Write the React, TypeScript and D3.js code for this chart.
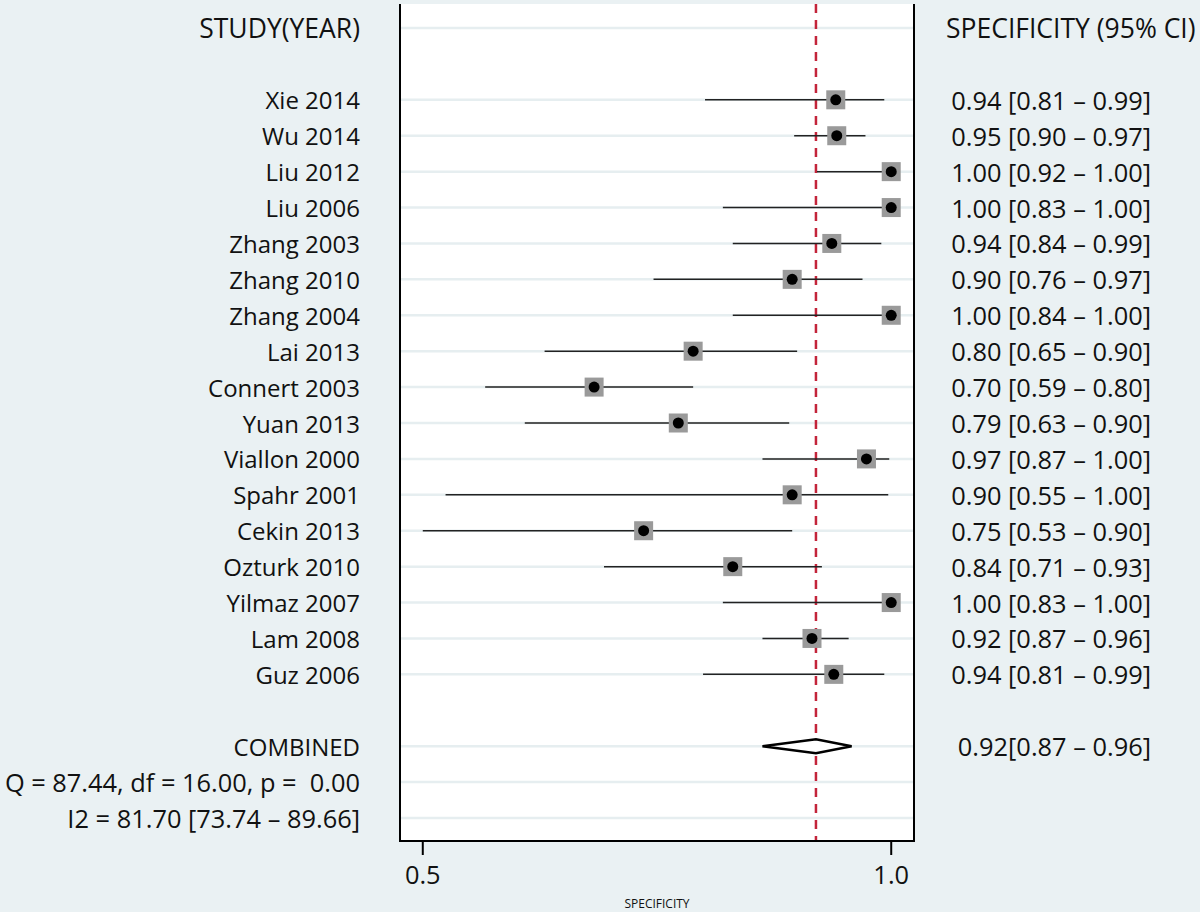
import React from "react";
import * as d3 from "d3";

const studies = [
  "Xie 2014", "Wu 2014", "Liu 2012", "Liu 2006", "Zhang 2003", "Zhang 2010", "Zhang 2004",
  "Lai 2013", "Connert 2003", "Yuan 2013", "Viallon 2000", "Spahr 2001", "Cekin 2013",
  "Ozturk 2010", "Yilmaz 2007", "Lam 2008", "Guz 2006",
];
const spec = [0.944, 0.945, 1.0, 1.0, 0.94, 0.9, 1.0, 0.8, 0.7, 0.785, 0.975, 0.9, 0.75, 0.84, 1.0, 0.92, 0.942];
const lower = [0.812, 0.902, 0.925, 0.83, 0.84, 0.76, 0.84, 0.65, 0.59, 0.63, 0.87, 0.55, 0.527, 0.71, 0.83, 0.87, 0.81];
const upper = [0.993, 0.974, 1.0, 1.0, 0.99, 0.971, 1.0, 0.905, 0.8, 0.897, 0.998, 0.997, 0.9, 0.93, 1.0, 0.957, 0.993];
const ciLabels = [
  "0.94 [0.81 \u2013 0.99]", "0.95 [0.90 \u2013 0.97]", "1.00 [0.92 \u2013 1.00]", "1.00 [0.83 \u2013 1.00]",
  "0.94 [0.84 \u2013 0.99]", "0.90 [0.76 \u2013 0.97]", "1.00 [0.84 \u2013 1.00]", "0.80 [0.65 \u2013 0.90]",
  "0.70 [0.59 \u2013 0.80]", "0.79 [0.63 \u2013 0.90]", "0.97 [0.87 \u2013 1.00]", "0.90 [0.55 \u2013 1.00]",
  "0.75 [0.53 \u2013 0.90]", "0.84 [0.71 \u2013 0.93]", "1.00 [0.83 \u2013 1.00]", "0.92 [0.87 \u2013 0.96]",
  "0.94 [0.81 \u2013 0.99]",
];
const pooled = { est: 0.924, lo: 0.87, hi: 0.96, label: "0.92[0.87 \u2013 0.96]" };
const statLines = ["Q = 87.44, df = 16.00, p =  0.00", "I2 = 81.70 [73.74 \u2013 89.66]"];
const tickValues = [0.527, 1.0];
const tickLabels = ["0.5", "1.0"];

const W = 1200;
const H = 912;
const FONT = "'Open Sans', 'Noto Sans', sans-serif";

export default function App() {
  const x = d3.scaleLinear().domain([0.504, 1.023]).range([400, 914]);
  const y = d3.scaleLinear().domain([0, 22]).range([28, 818]);
  const top = 4;
  const bottom = 841;
  const studyRow = (i: number) => i + 2;
  const gridRows = [0, ...studies.map((_, i) => studyRow(i)), 20, 21, 22];
  const dy = 7;
  const diamond = `M${x(pooled.lo)},${y(20)} L${x(pooled.est)},${y(20) - dy} L${x(pooled.hi)},${y(20)} L${x(pooled.est)},${y(20) + dy} Z`;
  const base = { fontFamily: FONT, fill: "#111", dominantBaseline: "central" as const, style: { whiteSpace: "pre" as const } };
  const nameStyle = { ...base, fontSize: 24 };
  const numStyle = { ...base, fontSize: 25.4 };
  const headStyle = { ...base, fontSize: 26.5 };
  const leftX = 360;
  const rightX = 1151;

  return (
    <svg width={W} height={H} style={{ position: "absolute", left: 0, top: 0, display: "block" }}>
      <rect x={0} y={0} width={W} height={H} fill="#eaf1f3" />
      <rect x={x.range()[0]} y={top} width={x.range()[1] - x.range()[0]} height={bottom - top} fill="#ffffff" />
      {gridRows.map((r) => (
        <line key={"g" + r} x1={x.range()[0]} x2={x.range()[1]} y1={y(r)} y2={y(r)} stroke="#e6eef0" strokeWidth={2.5} />
      ))}
      <line x1={x(pooled.est)} x2={x(pooled.est)} y1={top} y2={bottom} stroke="#c3243a" strokeWidth={2.5} strokeDasharray="9,7" />
      {studies.map((s, i) => {
        const cy = y(studyRow(i));
        return (
          <g key={s}>
            <line x1={x(lower[i])} x2={x(upper[i])} y1={cy} y2={cy} stroke="#222" strokeWidth={1.5} />
            <rect x={x(spec[i]) - 9.5} y={cy - 9.5} width={19} height={19} fill="#9a9a9a" />
            <circle cx={x(spec[i])} cy={cy} r={5.5} fill="#000" />
          </g>
        );
      })}
      <path d={diamond} fill="#fff" stroke="#000" strokeWidth={2.5} />
      <line x1={x.range()[0]} x2={x.range()[0]} y1={top} y2={bottom + 1} stroke="#000" strokeWidth={2} />
      <line x1={x.range()[1]} x2={x.range()[1]} y1={top} y2={bottom + 1} stroke="#000" strokeWidth={2} />
      <line x1={x.range()[0]} x2={x.range()[1]} y1={bottom} y2={bottom} stroke="#000" strokeWidth={2} />
      {tickValues.map((t, i) => (
        <g key={"t" + i}>
          <line x1={x(t)} x2={x(t)} y1={bottom} y2={bottom + 14} stroke="#000" strokeWidth={2} />
          <text x={x(t)} y={bottom + 33} textAnchor="middle" {...numStyle}>
            {tickLabels[i]}
          </text>
        </g>
      ))}
      <text x={(x.range()[0] + x.range()[1]) / 2} y={903} textAnchor="middle" dominantBaseline="central" fontFamily={FONT} fontSize={12} fill="#111">
        SPECIFICITY
      </text>
      <text x={leftX} y={y(0)} textAnchor="end" {...headStyle}>STUDY(YEAR)</text>
      {studies.map((s, i) => (
        <text key={"l" + s} x={leftX} y={y(studyRow(i))} textAnchor="end" {...nameStyle}>{s}</text>
      ))}
      <text x={leftX} y={y(20)} textAnchor="end" {...nameStyle}>COMBINED</text>
      {statLines.map((t, i) => (
        <text key={"s" + i} x={leftX} y={y(21 + i)} textAnchor="end" {...numStyle}>{t}</text>
      ))}
      <text x={946} y={y(0)} textAnchor="start" {...headStyle}>SPECIFICITY (95% CI)</text>
      {ciLabels.map((t, i) => (
        <text key={"r" + i} x={rightX} y={y(studyRow(i))} textAnchor="end" {...numStyle}>{t}</text>
      ))}
      <text x={rightX} y={y(20)} textAnchor="end" {...numStyle}>{pooled.label}</text>
    </svg>
  );
}
